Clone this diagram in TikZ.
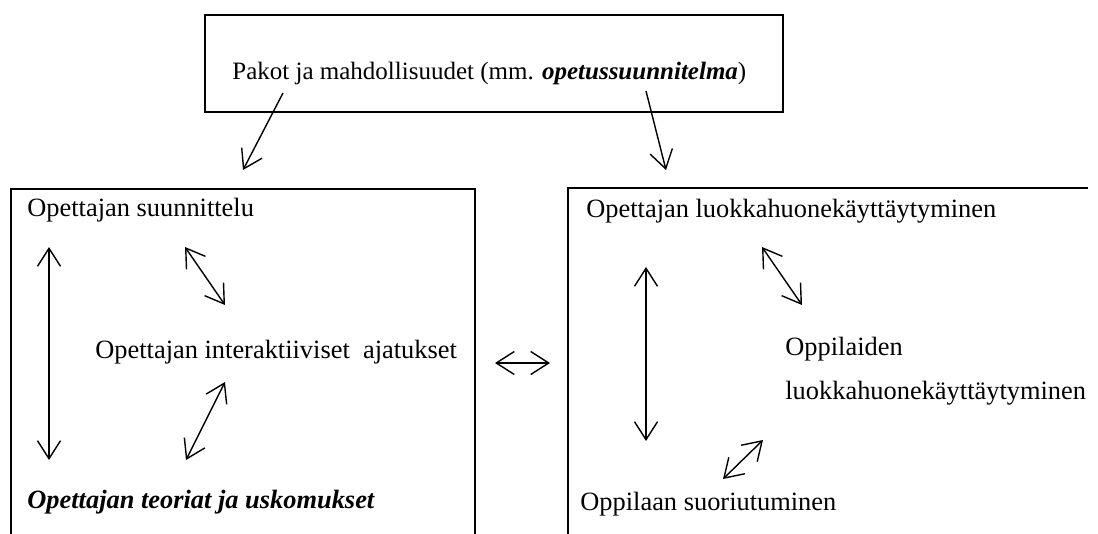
\documentclass[tikz,border=0pt]{standalone}
\usepackage{fontspec}
\setmainfont{Liberation Serif}
\usetikzlibrary{arrows.meta}
\begin{document}
\begin{tikzpicture}[x=0.5pt,y=-0.5pt,
  lbl/.style={anchor=base west, inner sep=0pt, font=\fontsize{13.2}{16}\selectfont},
  both/.style={line width=0.7pt, {Straight Barb[length=9pt,width=11.5pt]}-{Straight Barb[length=9pt,width=11.5pt]}},
  one/.style={line width=0.7pt, -{Straight Barb[length=9pt,width=11.5pt]}},
  frame/.style={line width=0.9pt}]
\useasboundingbox (0,0) rectangle (1098,534);
\clip (0,0) rectangle (1098,534);
% boxes
\draw[frame] (205,15) rectangle (783,112);
\draw[frame] (11,545) -- (11,189) -- (475,189) -- (475,545);
\draw[frame] (568,545) -- (568,188) -- (1088,188);
% texts
\node[lbl, font=\fontsize{12.5}{15}\selectfont] (pakot) at (232,80) {Pakot ja mahdollisuudet (mm. \textbf{\textit{opetussuunnitelma}})};
\node[lbl] (suun) at (27,217) {Opettajan suunnittelu};
\node[lbl] (inter) at (95,358) {Opettajan interaktiiviset\ \ ajatukset};
\node[lbl] (teor) at (27,508) {\textbf{\textit{Opettajan teoriat ja uskomukset}}};
\node[lbl] (luok) at (586,218) {Opettajan luokkahuonekäyttäytyminen};
\node[lbl] (oppi1) at (785,356) {Oppilaiden};
\node[lbl] (oppi2) at (785,400) {luokkahuonekäyttäytyminen};
\node[lbl] (suor) at (580,510) {Oppilaan suoriutuminen};
% arrow end points
\coordinate (a1) at (283,93);  \coordinate (a2) at (243,170);
\coordinate (b1) at (646,91);  \coordinate (b2) at (666,170);
\coordinate (c1) at (49,247);  \coordinate (c2) at (49,460);
\coordinate (d1) at (185,247); \coordinate (d2) at (225,305);
\coordinate (e1) at (225,382); \coordinate (e2) at (186,460);
\coordinate (f1) at (495,363); \coordinate (f2) at (550,363);
\coordinate (g1) at (646,267); \coordinate (g2) at (646,441);
\coordinate (h1) at (762,247); \coordinate (h2) at (802,305);
\coordinate (i1) at (763,440); \coordinate (i2) at (723,479);
% arrows
\draw[one] (a1) -- (a2);
\draw[one] (b1) -- (b2);
\draw[both] (c1) -- (c2);
\draw[both] (d1) -- (d2);
\draw[both] (e1) -- (e2);
\draw[both] (f1) -- (f2);
\draw[both] (g1) -- (g2);
\draw[both] (h1) -- (h2);
\draw[both] (i1) -- (i2);
\end{tikzpicture}
\end{document}
